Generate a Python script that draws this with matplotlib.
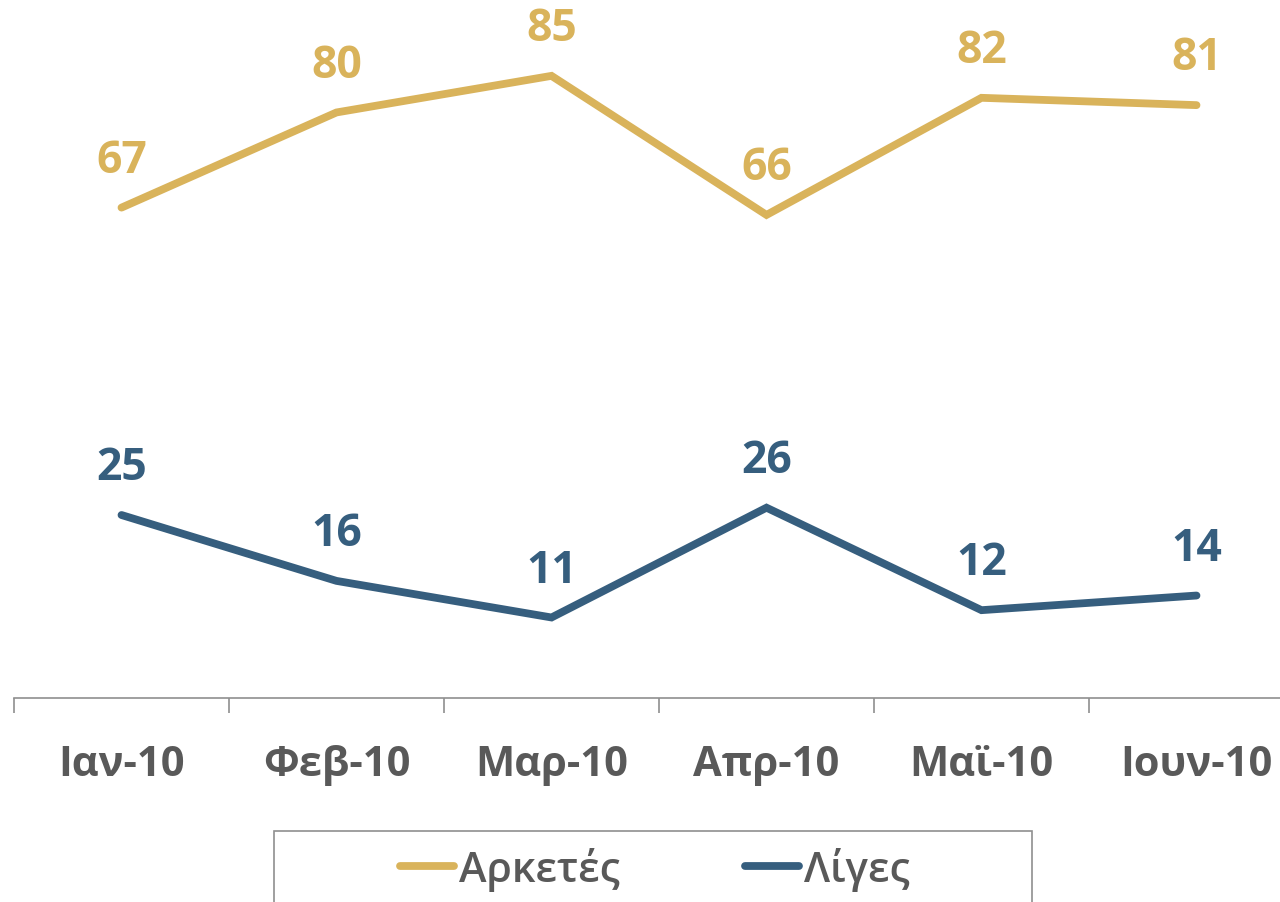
import numpy as np
import matplotlib.pyplot as plt
from matplotlib.patches import Rectangle

months = ["Ιαν-10", "Φεβ-10", "Μαρ-10", "Απρ-10", "Μαϊ-10", "Ιουν-10"]
arketes = [67, 80, 85, 66, 82, 81]
liges = [25, 16, 11, 26, 12, 14]

GOLD = "#D9B35B"
BLUE = "#365E7E"
GRAY_TXT = "#595959"
GRAY_AX = "#8F8F8F"

plt.rcParams['font.family'] = ['Open Sans', 'DejaVu Sans']

W, H = 1280, 903
fig = plt.figure(figsize=(W / 100, H / 100), dpi=100)

# axes run a bit past the right edge like the source crop
ax = fig.add_axes([14 / W, (H - 699) / H, 1290 / W, 699 / H])
x = np.arange(len(months))

series = [("Αρκετές", arketes, GOLD), ("Λίγες", liges, BLUE)]
handles = []
for name, vals, col in series:
    ln, = ax.plot(x, vals, color=col, lw=5.6, solid_capstyle='round',
                  solid_joinstyle='miter', label=name)
    handles.append(ln)
    for xi, v in zip(x, vals):
        ax.annotate(str(v), (xi, v), xytext=(0, 34), textcoords='offset points',
                    ha='center', va='center', fontsize=32, fontweight='bold',
                    color=col)

ax.set_xlim(-0.5, len(months) - 0.5)
ax.set_ylim(0, 95.5)

for s in ['left', 'top', 'right']:
    ax.spines[s].set_visible(False)
ax.spines['bottom'].set_color(GRAY_AX)
ax.spines['bottom'].set_linewidth(1.2)
ax.set_yticks([])

ax.set_xticks(x)
ax.set_xticklabels(months, fontsize=30, fontweight='bold', color=GRAY_TXT)
ax.tick_params(axis='x', which='major', length=0, pad=33)
ax.set_xticks(np.arange(-0.5, len(months), 1.0), minor=True)
ax.tick_params(axis='x', which='minor', length=11, width=1.2, color=GRAY_AX,
               direction='out')

# legend box, open at the bottom of the picture
fig.patches.append(Rectangle((274 / W, -0.02), (1032 - 274) / W, (H - 832) / H + 0.02,
                             transform=fig.transFigure, fill=False,
                             edgecolor=GRAY_AX, lw=1.2))
leg = fig.legend(handles=handles, loc='center', bbox_to_anchor=(655 / W, 0.037),
                 ncol=2, frameon=False, handlelength=1.3,
                 prop={'size': 30, 'weight': 'semibold'},
                 handletextpad=0.12, columnspacing=3.0, labelcolor=GRAY_TXT)

fig.savefig("out.png", dpi=100)
